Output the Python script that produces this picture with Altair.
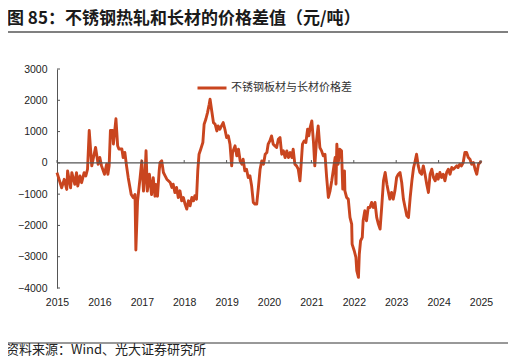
import altair as alt
import pandas as pd

TITLE = "图 85：不锈钢热轧和长材的价格差值（元/吨）"
SOURCE = "资料来源：Wind、光大证券研究所"
SERIES = "不锈钢板材与长材价格差"
LINE_COLOR = "#C9451F"

X_TICKS = list(range(2015, 2026))
Y_TICKS = [-4000, -3000, -2000, -1000, 0, 1000, 2000, 3000]

# 2015 - early 2017
T_A = [2015.00, 2015.11, 2015.17, 2015.23, 2015.25, 2015.32, 2015.35, 2015.42, 2015.46, 2015.49,
       2015.54, 2015.58, 2015.64, 2015.68, 2015.72, 2015.76, 2015.82, 2015.86, 2015.91, 2015.97,
       2016.01, 2016.05, 2016.12, 2016.17, 2016.20, 2016.23, 2016.26, 2016.31, 2016.33, 2016.39,
       2016.43, 2016.46, 2016.53, 2016.56, 2016.60, 2016.64, 2016.68, 2016.75, 2016.80, 2016.84,
       2016.86, 2016.90, 2016.96, 2017.00, 2017.04, 2017.08, 2017.10, 2017.13, 2017.18, 2017.23,
       2017.27, 2017.31, 2017.33, 2017.37, 2017.41]
V_A = [-312, -796, -527, -850, -258, -796, -312, -688, -312, -742,
       -419, -634, -312, -419, -204, 1032, -97, 172, 495, -43,
       172, -97, -366, -43, -366, -97, 1032, 1032, 602, 1409,
       548, 441, 441, 172, 333, -97, -473, -1011, -1118, -1011,
       -2785, -1226, -473, 65, -903, -258, 387, -903, -366, -1011,
       -473, -1065, -688, -1065, -258]

# mid 2017 - 2019
T_B = [2017.43, 2017.47, 2017.51, 2017.55, 2017.59, 2017.67, 2017.71, 2017.74, 2017.78, 2017.82,
       2017.86, 2017.90, 2017.94, 2017.98,
       2018.02, 2018.06, 2018.10, 2018.14, 2018.18, 2018.22, 2018.25, 2018.29, 2018.32, 2018.35,
       2018.39, 2018.44, 2018.47, 2018.51, 2018.55, 2018.59, 2018.61, 2018.65, 2018.69, 2018.73,
       2018.77, 2018.80, 2018.84, 2018.88, 2018.92, 2018.96,
       2019.00, 2019.04, 2019.08, 2019.12, 2019.14, 2019.20, 2019.24, 2019.28, 2019.32, 2019.36,
       2019.39, 2019.43, 2019.47, 2019.51, 2019.55, 2019.59, 2019.63, 2019.67, 2019.71, 2019.75,
       2019.79, 2019.83, 2019.87]
V_B = [11, 64, -309, -415, -521, -628, -787, -681, -947, -787,
       -1106, -894, -1213, -1106,
       -1319, -1479, -1213, -1372, -1106, -1213, -1053, -1160, -255, 277,
       436, 649, 1234, 1394, 1606, 1872, 2032, 1660, 1287, 1234,
       1021, 1181, 1074, 1181, 1287, 1074,
       809, 862, 596, -96, 330, 543, 223, 436, 64, -43,
       117, -255, -202, -468, -415, -734, -1266, -1319, -1319, -787,
       -202, 64, -43]

# late 2019 - early 2022
T_C = [2019.91, 2019.95, 2019.98,
       2020.02, 2020.06, 2020.10, 2020.14, 2020.18, 2020.22, 2020.26, 2020.30, 2020.34, 2020.38,
       2020.42, 2020.46, 2020.50, 2020.54, 2020.57, 2020.61, 2020.65, 2020.69, 2020.73, 2020.75,
       2020.79, 2020.83, 2020.87, 2020.91, 2020.94, 2020.97,
       2021.01, 2021.05, 2021.08, 2021.12, 2021.16, 2021.20, 2021.24, 2021.28, 2021.32, 2021.36,
       2021.40, 2021.44, 2021.48, 2021.52, 2021.56, 2021.58, 2021.60, 2021.63, 2021.67, 2021.71,
       2021.74, 2021.78, 2021.79, 2021.83, 2021.87, 2021.91, 2021.95, 2021.96,
       2022.01, 2022.05, 2022.07, 2022.11, 2022.13, 2022.16, 2022.20, 2022.22, 2022.26, 2022.30,
       2022.34]
V_C = [277, 330, 596,
       702, 862, 596, 543, 489, 755, 809, 277, 383, 170,
       383, 170, 330, 170, 436, -43, -96, -202, -574, -202,
       596, 702, 649, 1074, 862, 1128,
       1340, 649, -96, 702, 1181, 489, 383, 223, 277, -468,
       -1106, -894, -574, -202, 170, -681, 596, -43, 436, 383,
       -840, -255, -894, -1106, -1160, -1745, -1957, -2596,
       -2809, -3021, -3447, -3660, -2915, -2489, -2383, -1851, -1532, -1851,
       -1426]

# 2022 - 2025
T_D = [2022.38, 2022.42, 2022.46, 2022.50, 2022.54, 2022.58, 2022.62, 2022.66, 2022.70, 2022.74,
       2022.78, 2022.81, 2022.85, 2022.89, 2022.93, 2022.97,
       2023.01, 2023.05, 2023.09, 2023.13, 2023.17, 2023.21, 2023.25, 2023.29, 2023.33, 2023.37,
       2023.41, 2023.44, 2023.48, 2023.52, 2023.56, 2023.60, 2023.64, 2023.68, 2023.72, 2023.76,
       2023.80, 2023.84, 2023.88, 2023.92, 2023.96, 2023.99,
       2024.03, 2024.07, 2024.11, 2024.15, 2024.19, 2024.23, 2024.27, 2024.31, 2024.35, 2024.39,
       2024.43, 2024.46, 2024.50, 2024.54, 2024.58, 2024.62, 2024.66, 2024.70, 2024.74, 2024.78,
       2024.82, 2024.86, 2024.90, 2024.94, 2024.98, 2025.00]
V_D = [-1426, -1266, -1426, -1266, -1745, -1957, -2117, -1372, -574, -309,
       -681, -894, -1160, -947, -1160, -894,
       -468, -362, -309, -628, -1160, -1426, -1691, -1745, -1106, -574,
       -149, 11, 277, -96, -309, -362, -96, -362, -681, -947,
       -362, -202, -468, -574, -362, -521,
       -309, -468, -362, -574, -309, -202, -362, -149, -202, -149,
       -96, -149, -43, -96, 11, 330, 330, 170, 117, -43,
       11, -202, -362, -43, 11, 64]

df = pd.DataFrame({"year": T_A + T_B + T_C + T_D,
                   "value": V_A + V_B + V_C + V_D})
df["series"] = SERIES

W, H = 424, 219
NUM_FONT = "Liberation Sans"
CJK_FONT = "Noto Sans CJK SC"

x_scale = alt.Scale(domain=[2015, 2025], nice=False, zero=False)
y_scale = alt.Scale(domain=[-4000, 3000], nice=False, zero=False)

X_AXIS = alt.Axis(values=X_TICKS, format="d", title=None, domain=False, ticks=False,
                  grid=False, labelPadding=9, labelFontSize=10.5, labelFont=NUM_FONT,
                  labelColor="#222222", labelFlush=False)
Y_AXIS = alt.Axis(values=Y_TICKS, format="d", title=None, grid=False, ticks=False, domain=True,
                  domainColor="#555555", domainWidth=1, labelPadding=10,
                  labelFontSize=10.5, labelFont=NUM_FONT, labelColor="#222222")

line = alt.Chart(df).mark_line(strokeWidth=2.9, strokeJoin="round").encode(
    x=alt.X("year:Q", scale=x_scale, axis=X_AXIS),
    y=alt.Y("value:Q", scale=y_scale, axis=Y_AXIS),
    color=alt.Color("series:N", scale=alt.Scale(range=[LINE_COLOR]),
                    legend=alt.Legend(title=None, orient="none", legendX=139, legendY=3,
                                      symbolType="stroke", symbolSize=841, symbolStrokeWidth=3,
                                      labelFont=CJK_FONT, labelFontSize=11, labelColor="#333333",
                                      padding=0, labelOffset=3)),
)

zero = alt.Chart(pd.DataFrame({"value": [0]})).mark_rule(color="#555555", strokeWidth=1.2).encode(
    y=alt.Y("value:Q", scale=y_scale, axis=Y_AXIS)
)

xticks = alt.Chart(pd.DataFrame({"year": X_TICKS})).mark_rule(color="#555555", strokeWidth=1).encode(
    x=alt.X("year:Q", scale=x_scale, axis=X_AXIS),
    y=alt.Y(datum=0, scale=y_scale, axis=Y_AXIS),
    y2=alt.Y2(datum=90),
)

yticks = alt.Chart(pd.DataFrame({"value": Y_TICKS})).mark_rule(color="#555555", strokeWidth=1).encode(
    y=alt.Y("value:Q", scale=y_scale, axis=Y_AXIS),
    x=alt.value(0),
    x2=alt.value(3),
)

title = alt.Chart(pd.DataFrame({"t": [TITLE]})).mark_text(
    align="left", baseline="middle", font=CJK_FONT, fontSize=17, fontWeight="bold", color="#1a1a1a"
).encode(text="t:N", x=alt.value(-50), y=alt.value(-50))

title_rule = alt.Chart(pd.DataFrame({"a": [0]})).mark_rule(color="#808080", strokeWidth=2).encode(
    x=alt.value(-52), x2=alt.value(453), y=alt.value(-37)
)

source_rule = alt.Chart(pd.DataFrame({"a": [0]})).mark_rule(color="#333333", strokeWidth=1).encode(
    x=alt.value(-52), x2=alt.value(453), y=alt.value(274)
)

source = alt.Chart(pd.DataFrame({"t": [SOURCE]})).mark_text(
    align="left", baseline="middle", font=CJK_FONT, fontSize=13, color="#222222"
).encode(text="t:N", x=alt.value(-51), y=alt.value(281))

chart = alt.layer(line, zero, xticks, yticks, title, title_rule, source_rule, source).properties(
    width=W, height=H,
    padding={"left": 49, "top": 61, "right": 27, "bottom": 74},
    autosize=alt.AutoSizeParams(type="none"),
    background="white",
).configure_view(stroke=None)

chart.save("out.html", embed_options={"renderer": "svg", "actions": False})
